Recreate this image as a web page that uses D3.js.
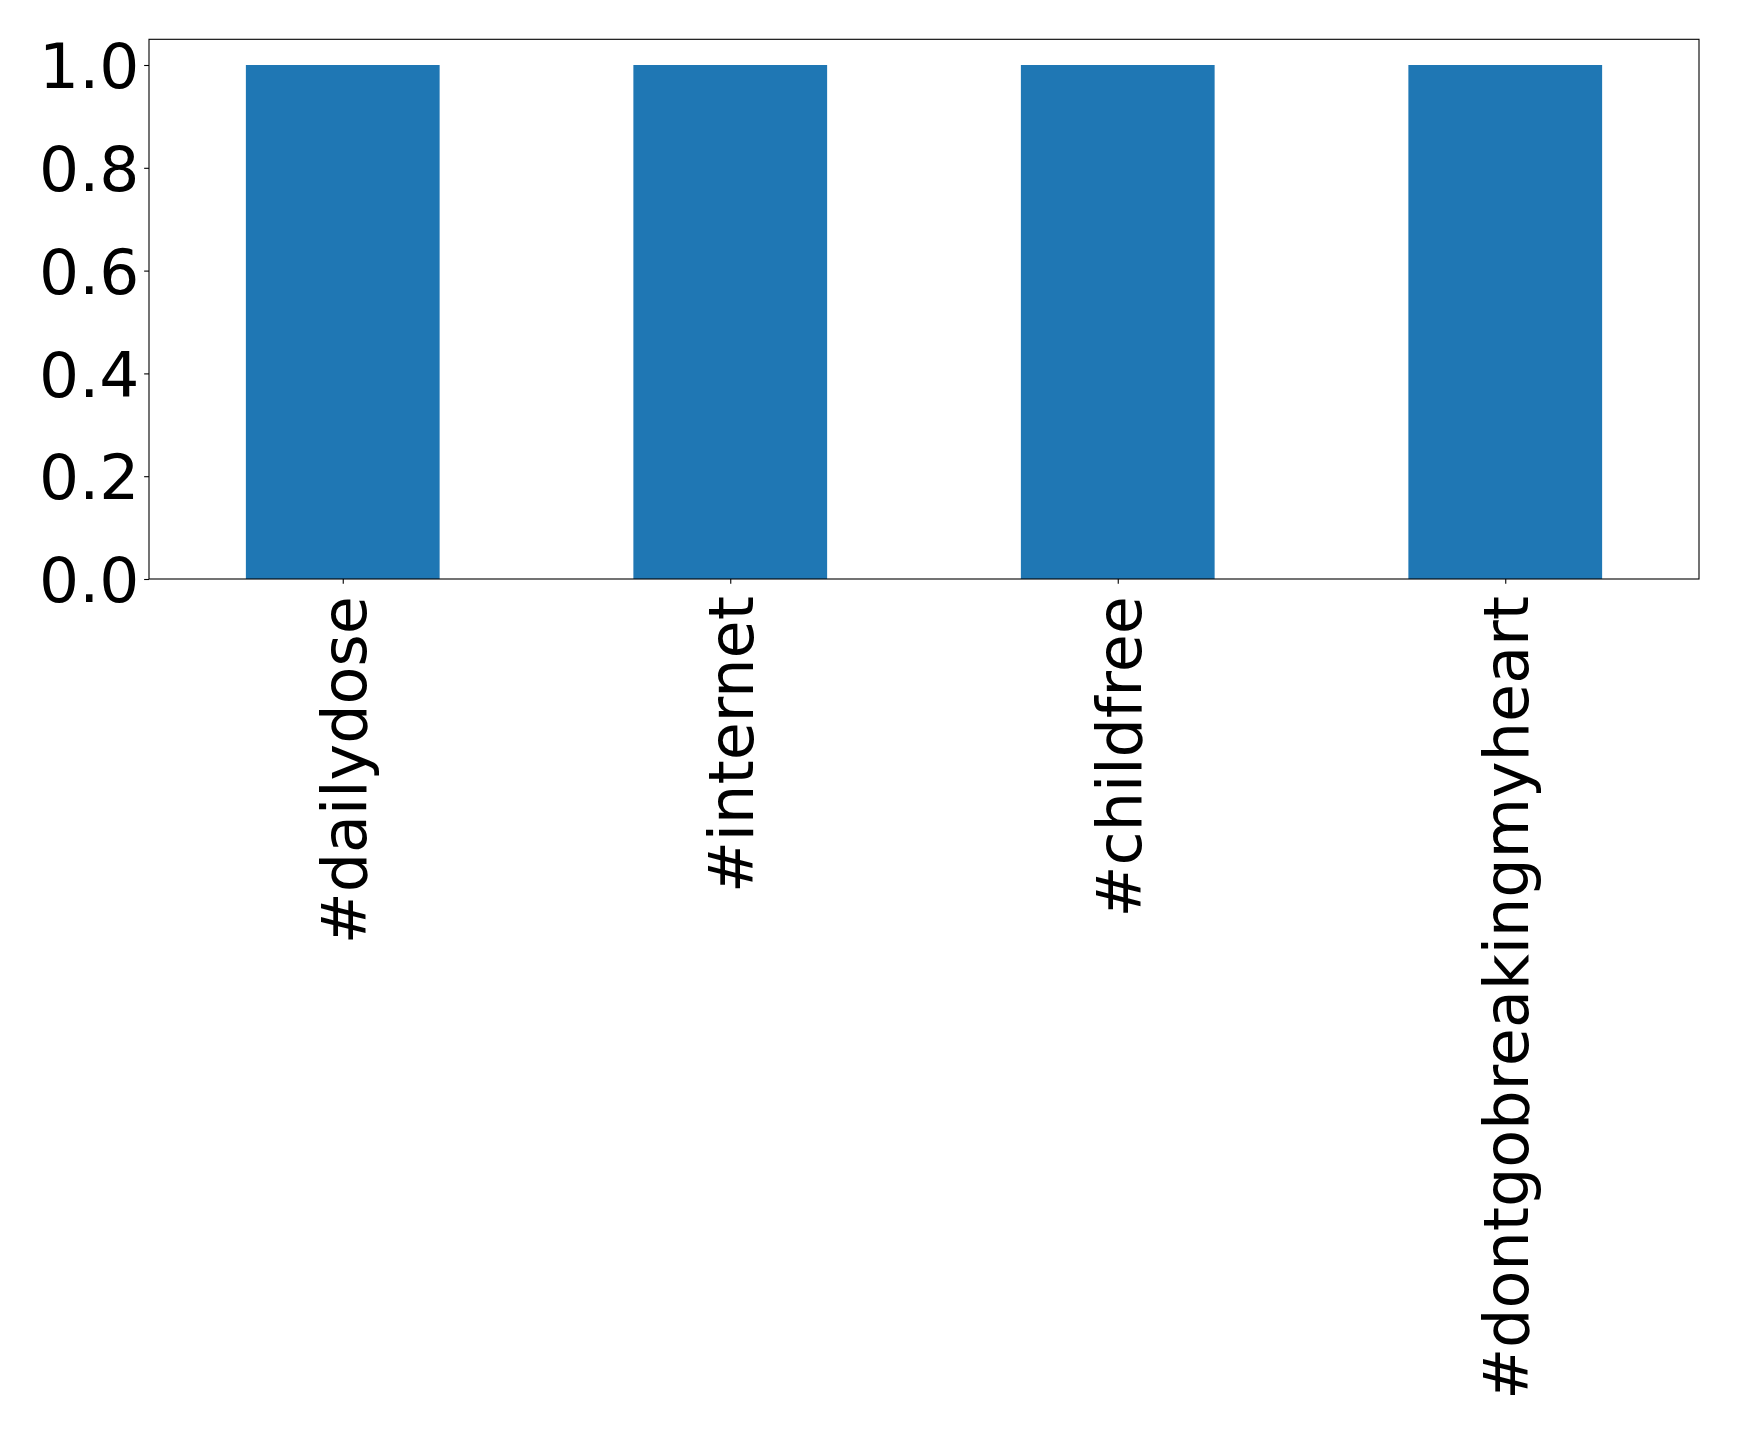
<!DOCTYPE html>
<html><head><meta charset="utf-8">
<script src="https://cdn.jsdelivr.net/npm/d3@7"></script>
<style>body{margin:0;background:#fff}svg{display:block}</style>
</head><body>
<script>
const categories = ["#dailydose", "#internet", "#childfree", "#dontgobreakingmyheart"];
const values = [1, 1, 1, 1];
const yTicks = [0, 0.2, 0.4, 0.6, 0.8, 1.0];

const W = 1739, H = 1438;
const m = {left: 149, top: 39.3, right: 1699, bottom: 579};
const fsY = 63, fsX = 62;
const FONT = "'DejaVu Sans', sans-serif";
const svg = d3.select("body").append("svg").attr("width", W).attr("height", H)
  .style("font-family", FONT);

const x = d3.scaleLinear().domain([-0.5, categories.length - 0.5]).range([m.left, m.right]);
const y = d3.scaleLinear().domain([0, 1.05]).range([m.bottom, m.top]);
const bw = 0.5;

svg.append("g").selectAll("rect").data(values).join("rect")
  .attr("x", (d, i) => x(i - bw / 2))
  .attr("width", (d, i) => x(i + bw / 2) - x(i - bw / 2))
  .attr("y", d => y(d))
  .attr("height", d => y(0) - y(d))
  .attr("fill", "#1f77b4");

const yAxis = d3.axisLeft(y).tickValues(yTicks).tickFormat(d3.format(".1f")).tickSize(4.86).tickPadding(4.86);
const gy = svg.append("g").attr("transform", `translate(${m.left},0)`).call(yAxis)
  .attr("font-family", FONT).attr("font-size", fsY);
gy.select(".domain").remove();
gy.selectAll("line").attr("stroke", "#000").attr("stroke-width", 1.1);
gy.selectAll("text").attr("fill", "#000").attr("dy", "0.36em");

const xAxis = d3.axisBottom(x).tickValues(d3.range(categories.length)).tickFormat(i => categories[i]).tickSize(4.86).tickPadding(4.86);
const gx = svg.append("g").attr("transform", `translate(0,${m.bottom})`).call(xAxis)
  .attr("font-family", FONT).attr("font-size", fsX);
gx.select(".domain").remove();
gx.selectAll("line").attr("stroke", "#000").attr("stroke-width", 1.1);
gx.selectAll("text").attr("fill", "#000")
  .attr("text-anchor", "end").attr("dy", "0.36em")
  .attr("transform", "translate(0,17) rotate(-90)")
  .attr("x", 0).attr("y", 0);

svg.append("rect").attr("x", m.left).attr("y", m.top)
  .attr("width", m.right - m.left).attr("height", m.bottom - m.top)
  .attr("fill", "none").attr("stroke", "#000").attr("stroke-width", 1.1);
</script>
</body></html>
